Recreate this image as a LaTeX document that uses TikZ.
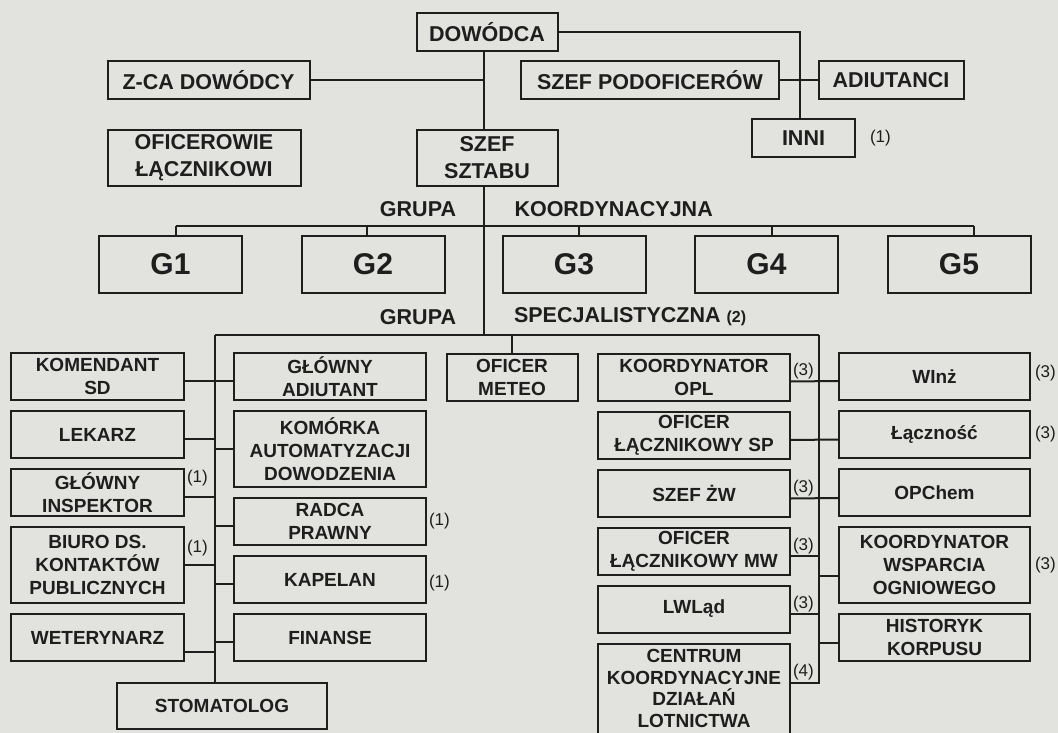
\documentclass[tikz,border=0pt]{standalone}
\usepackage{fontspec}
\setmainfont{Liberation Sans}
\usepackage{xcolor}
\usepackage{tikz}
\usetikzlibrary{positioning}
\definecolor{paper}{RGB}{226,227,223}
\definecolor{ink}{RGB}{30,30,30}
\tikzstyle{office}=[rectangle, draw=ink, fill=paper, text=ink, align=center,
        inner sep=2pt, minimum width=192pt, minimum height=47pt,
        font=\bfseries\fontsize{19}{23}\selectfont]
\tikzstyle{talloffice}=[office, minimum height=76pt]
\tikzstyle{topoffice}=[office, minimum height=38pt, font=\bfseries\fontsize{21.5}{27}\selectfont]
\tikzstyle{gbox}=[office, minimum width=143pt, minimum height=57pt, font=\bfseries\fontsize{30}{30}\selectfont]
\tikzstyle{grouplabel}=[inner sep=0pt, text=ink, font=\bfseries\fontsize{21.5}{26}\selectfont]
\tikzstyle{remark}=[inner sep=1pt, text=ink, font=\fontsize{17}{20}\selectfont]

\begin{document}
\begin{tikzpicture}[x=1pt, y=-1pt, node distance=9pt, line width=2pt, color=ink]
        \useasboundingbox (0,0) rectangle (1058,733);
        \clip (0,0) rectangle (1058,733);
        \fill[paper] (0,0) rectangle (1058,733);

        % command level
        \node (Dowodca) [topoffice, minimum width=141pt] at (487,31.7) {DOWÓDCA};
        \node (ZcaDowodcy) [topoffice, minimum width=202pt] at (208.6,80.5) {Z-CA DOWÓDCY};
        \node (SzefPodof) [topoffice, minimum width=258pt] at (650,80.5) {SZEF PODOFICERÓW};
        \node (Adiutanci) [topoffice, minimum width=145pt] at (891,80.5) {ADIUTANCI};
        \node (Inni) [topoffice, minimum width=103pt] at (803.5,138.3) {INNI};
        \node (InniNote) [remark, right=12pt of Inni] {(1)};
        \node (Oficerowie) [topoffice, minimum width=193pt, minimum height=56pt] at (204,158)
        {OFICEROWIE\\ŁĄCZNIKOWI};
        \node (SzefSztabu) [topoffice, minimum width=141pt, minimum height=56pt] at (487,158)
        {SZEF\\SZTABU};
        \coordinate (Spine) at (484,0);

        \draw (Dowodca.south -| Spine) -- (SzefSztabu.north -| Spine);
        \draw (ZcaDowodcy) -- (ZcaDowodcy -| Spine);
        \draw (Dowodca) -- ([xshift=-4pt]Dowodca -| Inni) -- ([xshift=-4pt]Inni.north);
        \draw (SzefPodof) -- (Adiutanci);

        % coordinating group
        \node (GrupaK) [grouplabel] at (418,209) {GRUPA};
        \node (Koordynacyjna) [grouplabel, anchor=west] at (513.5,209) {KOORDYNACYJNA};
        \coordinate (GBus) at (484,226);
        \node (G1) [gbox] at (170.5,264.5) {G1};
        \node (G2) [gbox] at (373,264.5) {G2};
        \node (G3) [gbox] at (574,264.5) {G3};
        \node (G4) [gbox] at (766.5,264.5) {G4};
        \node (G5) [gbox] at (959,264.5) {G5};
        \draw ([xshift=5.5pt]G1.north |- GBus) -- ([xshift=15pt]G5.north |- GBus);
        \foreach \g/\d in {G1/5.5,G2/-6,G3/5,G4/5.5,G5/15}
          \draw ([xshift=\d pt]\g.north) -- ([xshift=\d pt]\g.north |- GBus);

        % specialist group
        \node (GrupaS) [grouplabel] at (418,317) {GRUPA};
        \node (Specjalistyczna) [grouplabel, anchor=west] at (513,317)
        {SPECJALISTYCZNA {\fontsize{16}{16}\selectfont(2)}};
        \coordinate (SpecL) at (215,335);
        \coordinate (SpecR) at (819,335);
        \draw (SzefSztabu.south -| Spine) -- (Spine |- SpecL);
        \draw (SpecL) -- (SpecR);

        % left wing
        \node (Komendant) [office, minimum width=173pt] at (97.5,376.5) {KOMENDANT\\SD};
        \node (Lekarz) [office, minimum width=173pt, below=of Komendant] {LEKARZ};
        \node (GlInspektor) [office, minimum width=173pt, below=of Lekarz] {GŁÓWNY\\INSPEKTOR};
        \node (Biuro) [talloffice, minimum width=173pt, below=of GlInspektor]
        {BIURO DS.\\KONTAKTÓW\\PUBLICZNYCH};
        \node (Weterynarz) [office, minimum width=173pt, below=of Biuro] {WETERYNARZ};

        \node (GlAdiutant) [office] at (330,376.5) {GŁÓWNY\\ADIUTANT};
        \node (Komorka) [talloffice, below=of GlAdiutant] {KOMÓRKA\\AUTOMATYZACJI\\DOWODZENIA};
        \node (Radca) [office, below=of Komorka] {RADCA\\PRAWNY};
        \node (Kapelan) [office, below=of Radca] {KAPELAN};
        \node (Finanse) [office, below=of Kapelan] {FINANSE};
        \node (Stomatolog) [office, minimum width=210pt, minimum height=46pt] at (222,706) {STOMATOLOG};

        \node (GlInspektorNote) [remark, anchor=north west] at (GlInspektor.north east) {(1)};
        \node (BiuroNote) [remark, anchor=south west] at ([yshift=7pt]Biuro.east) {(1)};
        \node (RadcaNote) [remark, anchor=west] at (Radca.east) {(1)};
        \node (KapelanNote) [remark, anchor=west] at ([yshift=-4pt]Kapelan.east) {(1)};

        \draw (SpecL) -- (SpecL |- Stomatolog.north);
        \draw ([yshift=-4pt]Komendant.east) -- ([yshift=-4pt]GlAdiutant.west);
        \foreach \n/\s in {Lekarz/-4,GlInspektor/-4,Biuro/0,Weterynarz/-14}
          \draw ([yshift=\s pt]\n.east) -- ([yshift=\s pt]\n.east -| SpecL);
        \foreach \n/\s in {Komorka/0,Radca/-4,Kapelan/-4,Finanse/-4}
          \draw ([yshift=\s pt]\n.west) -- ([yshift=\s pt]\n.west -| SpecL);

        % meteo
        \node (Meteo) [office, minimum width=131pt] at (512,377) {OFICER\\METEO};
        \draw (Meteo) -- (Meteo |- SpecL);

        % right wing
        \node (KoordOpl) [office] at (694,377) {KOORDYNATOR\\OPL};
        \node (OficerSp) [office, below=of KoordOpl] {OFICER\\ŁĄCZNIKOWY SP};
        \node (SzefZw) [office, below=of OficerSp] {SZEF ŻW};
        \node (OficerMw) [office, below=of SzefZw] {OFICER\\ŁĄCZNIKOWY MW};
        \node (LWLad) [office, below=of OficerMw] {LWLąd};
        \node (Centrum) [office, below=of LWLad, inner ysep=6pt, text depth=20pt,
          font=\bfseries\fontsize{19}{21.5}\selectfont]
        {CENTRUM\\KOORDYNACYJNE\\DZIAŁAŃ\\LOTNICTWA};

        \node (WInz) [office, minimum width=191pt] at (934.5,376.5) {WInż};
        \node (Lacznosc) [office, minimum width=191pt, below=of WInz] {Łączność};
        \node (OPChem) [office, minimum width=191pt, below=of Lacznosc] {OPChem};
        \node (KoordWo) [talloffice, minimum width=191pt, below=of OPChem]
        {KOORDYNATOR\\WSPARCIA\\OGNIOWEGO};
        \node (Historyk) [office, minimum width=191pt, below=of KoordWo] {HISTORYK\\KORPUSU};

        \draw ([yshift=-4.5pt]KoordOpl.east) -- ([yshift=-4.5pt]WInz.west);
        \draw ([yshift=-5pt]OficerSp.east) -- ([yshift=-5pt]Lacznosc.west);
        \draw ([yshift=-5.5pt]SzefZw.east) -- ([yshift=-5.5pt]OPChem.west);
        \draw ([yshift=-5pt]OficerMw.east) -- ([yshift=-5pt]OficerMw.east -| SpecR);
        \draw ([yshift=-5pt]LWLad.east) -- ([yshift=-5pt]LWLad.east -| SpecR);
        \draw ([yshift=-11pt]KoordWo.west) -- ([yshift=-11pt]KoordWo.west -| SpecR);
        \draw ([yshift=-5pt]Historyk.west) -- ([yshift=-5pt]Historyk.west -| SpecR);
        \draw ([yshift=-40pt]Centrum.north east) coordinate (CentrumTap) -- (CentrumTap -| SpecR) -- (SpecR);

        \node (KoordOplNote) [remark, anchor=south west] at ([yshift=-4.5pt]KoordOpl.east) {(3)};
        \node (SzefZwNote) [remark, anchor=south west] at ([yshift=-5.5pt]SzefZw.east) {(3)};
        \node (OficerMwNote) [remark, anchor=south west] at ([yshift=-5pt]OficerMw.east) {(3)};
        \node (LWLadNote) [remark, anchor=south west] at ([yshift=-5pt]LWLad.east) {(3)};
        \node (CentrumNote) [remark, anchor=south west] at (CentrumTap) {(4)};
        \node (WInzNote) [remark, anchor=west] at ([xshift=2pt,yshift=3pt]WInz.east) {(3)};
        \node (LacznoscNote) [remark, anchor=west] at ([xshift=2pt]Lacznosc.east) {(3)};
        \node (KoordWoNote) [remark, anchor=west] at ([xshift=2pt]KoordWo.east) {(3)};
\end{tikzpicture}
\end{document}
